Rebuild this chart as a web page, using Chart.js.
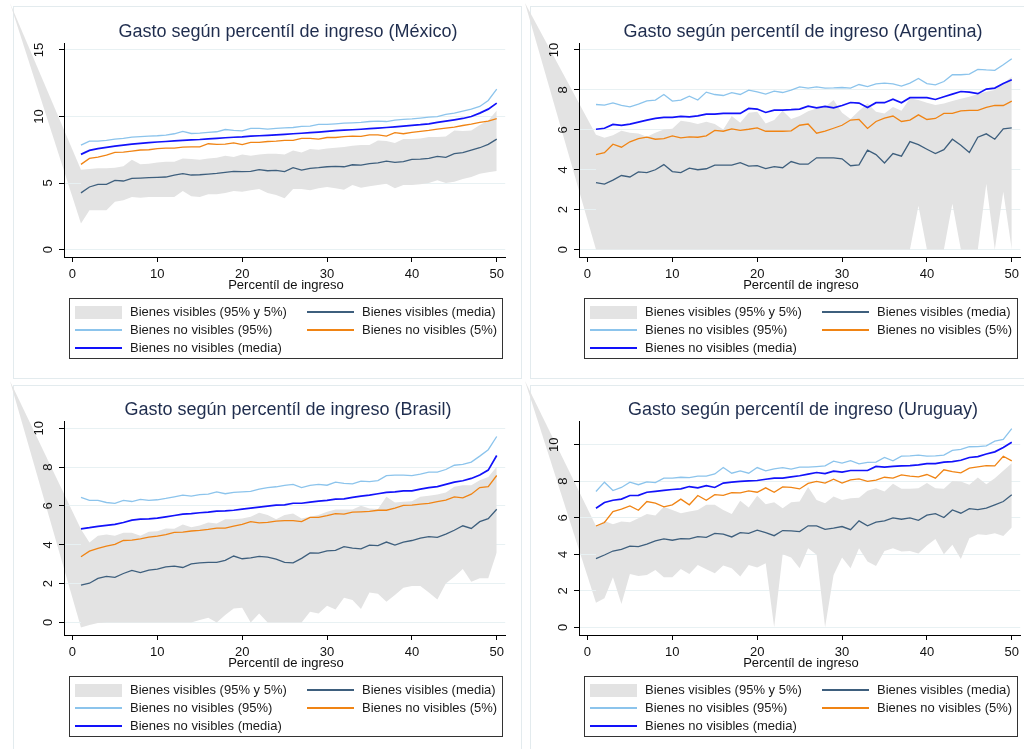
<!DOCTYPE html>
<html lang="es">
<head>
<meta charset="utf-8">
<title>Gasto según percentíl de ingreso</title>
<script src="https://cdn.jsdelivr.net/npm/chart.js@4.4.1/dist/chart.umd.min.js"></script>
<style>
    html, body { margin: 0; padding: 0; background: #fff; overflow: hidden; }
    body { width: 1024px; height: 749px; position: relative; font-family: "Liberation Sans", Arial, sans-serif; }
    .panel { position: absolute; width: 509px; height: 371px; }
    .panel canvas { position: absolute; left: 0; top: 0; }
    .marco { position: absolute; border: 1px solid #e3ebee; }
    .titulo { position: absolute; left: 64px; width: 448px; top: 22px; font-size: 18px; line-height: 18px; text-align: center; color: #1f2d4e; white-space: nowrap; }
    .xtitulo { position: absolute; left: 64px; width: 444px; top: 278px; font-size: 13px; line-height: 13px; text-align: center; color: #111; white-space: nowrap; }
    .leyenda { position: absolute; left: 69px; top: 298px; width: 432px; height: 59px; border: 1px solid #333; background: #fff; font-size: 13px; color: #1a1a1a; }
    .muestra { position: absolute; width: 47px; }
    .texto { position: absolute; height: 18px; line-height: 18px; white-space: nowrap; }
</style>
</head>
<body>
<script>
// Percentiles de ingreso (eje x) y marcas de los ejes
const percentil = [1, 2, 3, 4, 5, 6, 7, 8, 9, 10, 11, 12, 13, 14, 15, 16, 17, 18, 19, 20, 21, 22, 23, 24, 25,
    26, 27, 28, 29, 30, 31, 32, 33, 34, 35, 36, 37, 38, 39, 40, 41, 42, 43, 44, 45, 46, 47, 48, 49, 50]
const xTicks = [0, 10, 20, 30, 40, 50]
const yTicksMex = [0, 5, 10, 15]
const yTicksPar = [0, 2, 4, 6, 8, 10]

// México
const mexVisAlto = [6.0, 6.05, 6.1, 6.1, 6.15, 6.25, 6.75, 6.4, 6.45, 6.55, 6.6, 6.6, 6.85, 6.8, 6.75, 6.85, 6.9, 7.05, 6.95, 7.15, 7.05, 7.15, 7.2, 7.2, 7.15,
    7.45, 7.3, 7.55, 7.5, 7.6, 7.65, 7.7, 7.8, 7.85, 7.85, 8.2, 8.15, 8.0, 8.3, 8.3, 8.35, 8.45, 8.45, 8.5, 8.95, 8.9, 8.95, 9.35, 9.7, 10.45]
const mexVisBajo = [1.95, 2.95, 2.95, 2.95, 3.6, 3.7, 3.95, 3.9, 3.95, 3.95, 3.95, 3.95, 4.4, 4.0, 3.95, 4.15, 4.15, 4.25, 4.4, 4.35, 4.45, 4.55, 4.25, 4.1, 3.85,
    4.55, 4.55, 4.45, 4.6, 4.7, 4.6, 4.5, 4.85, 4.65, 4.75, 4.85, 4.95, 4.6, 4.85, 4.85, 4.9, 5.0, 5.2, 5.0, 5.1, 5.3, 5.45, 5.7, 5.8, 5.9]
const mexVisMedia = [4.26, 4.7, 4.9, 4.9, 5.2, 5.15, 5.35, 5.37, 5.4, 5.42, 5.45, 5.6, 5.7, 5.6, 5.62, 5.67, 5.72, 5.8, 5.87, 5.85, 5.87, 6.0, 5.92, 5.95, 5.85,
    6.15, 5.97, 6.1, 6.15, 6.22, 6.25, 6.22, 6.37, 6.35, 6.45, 6.52, 6.65, 6.55, 6.6, 6.77, 6.8, 6.85, 7.0, 6.92, 7.2, 7.28, 7.47, 7.65, 7.9, 8.3]
const mexNoVis95 = [7.85, 8.15, 8.15, 8.2, 8.3, 8.35, 8.45, 8.48, 8.52, 8.55, 8.6, 8.7, 8.88, 8.72, 8.75, 8.8, 8.85, 9.02, 8.95, 8.92, 9.1, 9.1, 9.05, 9.1, 9.15,
    9.17, 9.25, 9.27, 9.4, 9.4, 9.45, 9.5, 9.52, 9.55, 9.62, 9.65, 9.62, 9.72, 9.78, 9.82, 9.88, 9.95, 9.98, 10.15, 10.25, 10.4, 10.55, 10.75, 11.2, 12.05]
const mexNoVis5 = [6.4, 6.85, 6.95, 7.1, 7.3, 7.32, 7.4, 7.48, 7.5, 7.58, 7.62, 7.62, 7.7, 7.72, 7.72, 7.95, 7.9, 7.92, 8.02, 7.88, 8.05, 8.05, 8.12, 8.15, 8.2,
    8.2, 8.35, 8.35, 8.3, 8.42, 8.42, 8.48, 8.52, 8.5, 8.62, 8.62, 8.52, 8.78, 8.7, 8.8, 8.88, 8.95, 9.05, 9.12, 9.2, 9.32, 9.42, 9.55, 9.65, 9.83]
const mexNoVisMedia = [7.15, 7.45, 7.58, 7.68, 7.77, 7.85, 7.92, 7.98, 8.03, 8.08, 8.12, 8.16, 8.2, 8.24, 8.27, 8.32, 8.36, 8.4, 8.44, 8.47, 8.52, 8.55, 8.58, 8.62, 8.66,
    8.7, 8.74, 8.78, 8.83, 8.88, 8.93, 8.97, 9.0, 9.04, 9.09, 9.13, 9.17, 9.22, 9.27, 9.33, 9.38, 9.45, 9.55, 9.65, 9.75, 9.85, 10.0, 10.25, 10.55, 11.0]

// Argentina
const argVisAlto = [5.75, 5.6, 5.73, 5.95, 5.85, 5.82, 5.65, 5.85, 6.02, 6.05, 6.45, 6.39, 6.29, 6.4, 6.29, 6.02, 6.69, 6.35, 6.85, 6.9, 6.32, 6.49, 6.95, 6.54, 6.69,
    6.93, 7.07, 7.15, 7.49, 6.85, 6.54, 6.95, 7.32, 6.9, 6.82, 7.15, 6.95, 7.57, 7.49, 7.36, 7.24, 7.32, 7.44, 7.56, 7.66, 7.79, 7.91, 7.99, 8.32, 8.66]
const argVisBajo = [0, 0, 0, 0, 0, 0, 0, 0, 0, 0, 0, 0, 0, 0, 0, 0, 0, 0, 0, 0, 0, 0, 0, 0, 0,
    0, 0, 0, 0, 0, 0, 0, 0, 0, 0, 0, 0, 0, 2.2, 0, 0, 0, 2.3, 0, 0, 0, 3.3, 0, 2.9, 0]
const argVisMedia = [3.36, 3.28, 3.48, 3.71, 3.64, 3.89, 3.86, 4.0, 4.26, 3.91, 3.86, 4.08, 4.0, 4.05, 4.23, 4.23, 4.23, 4.36, 4.18, 4.21, 4.06, 4.16, 4.1, 4.41, 4.28,
    4.28, 4.6, 4.6, 4.6, 4.55, 4.2, 4.25, 4.98, 4.76, 4.34, 4.81, 4.68, 5.41, 5.26, 5.03, 4.81, 5.01, 5.53, 5.23, 4.86, 5.63, 5.8, 5.53, 6.05, 6.1]
const argNoVis95 = [7.27, 7.24, 7.35, 7.22, 7.15, 7.29, 7.45, 7.49, 7.77, 7.44, 7.49, 7.69, 7.49, 7.89, 7.77, 7.72, 7.86, 7.77, 7.99, 7.9, 7.79, 7.94, 7.87, 7.99, 8.15,
    8.09, 8.15, 8.09, 8.1, 8.12, 8.09, 8.27, 8.17, 8.3, 8.34, 8.3, 8.19, 8.34, 8.57, 8.32, 8.25, 8.42, 8.76, 8.76, 8.79, 9.03, 9.0, 8.98, 9.26, 9.56]
const argNoVis5 = [4.76, 4.86, 5.28, 5.13, 5.4, 5.56, 5.63, 5.53, 5.56, 5.7, 5.6, 5.65, 5.63, 5.7, 5.97, 5.93, 6.05, 5.97, 6.03, 6.1, 5.93, 5.93, 5.93, 5.95, 6.23,
    6.29, 5.83, 5.93, 6.08, 6.23, 6.49, 6.52, 6.07, 6.42, 6.59, 6.69, 6.42, 6.49, 6.75, 6.52, 6.57, 6.82, 6.82, 6.95, 6.97, 6.97, 7.12, 7.22, 7.22, 7.44]
const argNoVisMedia = [6.03, 6.08, 6.27, 6.22, 6.29, 6.39, 6.49, 6.57, 6.62, 6.62, 6.67, 6.65, 6.7, 6.79, 6.79, 6.82, 6.82, 6.82, 7.07, 7.04, 6.87, 6.99, 6.99, 7.01, 7.04,
    7.19, 7.1, 7.17, 7.1, 7.22, 7.37, 7.34, 7.12, 7.36, 7.36, 7.54, 7.36, 7.61, 7.61, 7.61, 7.52, 7.66, 7.79, 7.92, 7.89, 7.81, 8.04, 8.09, 8.32, 8.51]

// Brasil
const braVisAlto = [4.8, 4.12, 4.46, 4.53, 4.46, 4.62, 4.62, 4.46, 4.67, 4.7, 4.84, 4.82, 5.05, 4.9, 5.0, 5.15, 5.1, 5.32, 5.32, 5.36, 5.44, 5.65, 5.53, 5.32, 5.53,
    5.61, 5.36, 5.45, 5.53, 5.7, 5.82, 5.82, 5.82, 6.01, 5.87, 5.84, 6.47, 6.18, 6.22, 6.25, 6.47, 6.53, 6.59, 6.7, 6.99, 7.07, 7.07, 7.33, 7.5, 8.02]
const braVisBajo = [-0.26, -0.14, -0.03, 0, 0, 0, 0, 0, 0, 0, 0, 0, 0, 0, 0.12, 0.24, 0, 0.38, 0.72, 0.75, 0, 0.46, 0, 0, 0,
    0, 0, 0.55, 0.46, 0.86, 0.67, 1.27, 1.15, 0.69, 1.54, 1.48, 1.06, 1.41, 1.79, 1.87, 1.87, 1.54, 1.18, 2.0, 2.35, 2.75, 2.1, 2.27, 2.27, 3.6]
const braVisMedia = [1.92, 2.02, 2.27, 2.37, 2.32, 2.52, 2.68, 2.57, 2.69, 2.75, 2.86, 2.9, 2.83, 3.02, 3.07, 3.09, 3.09, 3.2, 3.42, 3.28, 3.33, 3.4, 3.36, 3.26, 3.09,
    3.07, 3.3, 3.58, 3.57, 3.69, 3.71, 3.9, 3.83, 3.79, 3.98, 3.96, 4.14, 3.98, 4.14, 4.22, 4.34, 4.42, 4.38, 4.55, 4.75, 4.98, 4.84, 5.19, 5.35, 5.83]
const braNoVis95 = [6.44, 6.29, 6.29, 6.18, 6.13, 6.29, 6.23, 6.34, 6.29, 6.32, 6.39, 6.47, 6.56, 6.51, 6.59, 6.61, 6.73, 6.63, 6.7, 6.73, 6.75, 6.87, 6.95, 6.99, 7.06,
    7.11, 6.95, 7.06, 7.11, 7.07, 7.23, 7.16, 7.14, 7.28, 7.26, 7.31, 7.56, 7.59, 7.59, 7.56, 7.64, 7.74, 7.74, 7.88, 8.1, 8.14, 8.26, 8.57, 8.9, 9.58]
const braNoVis5 = [3.38, 3.67, 3.81, 3.93, 4.02, 4.22, 4.24, 4.31, 4.39, 4.45, 4.52, 4.64, 4.65, 4.71, 4.74, 4.79, 4.86, 4.86, 4.96, 5.05, 5.19, 5.13, 5.15, 5.22, 5.24,
    5.25, 5.19, 5.41, 5.41, 5.5, 5.61, 5.58, 5.68, 5.7, 5.72, 5.78, 5.78, 5.89, 6.03, 6.04, 6.1, 6.13, 6.23, 6.3, 6.47, 6.42, 6.61, 6.95, 7.0, 7.57]
const braNoVisMedia = [4.82, 4.88, 4.95, 5.0, 5.05, 5.15, 5.27, 5.32, 5.34, 5.37, 5.44, 5.51, 5.58, 5.61, 5.65, 5.68, 5.73, 5.75, 5.78, 5.84, 5.89, 5.94, 5.99, 6.04, 6.06,
    6.14, 6.14, 6.2, 6.25, 6.29, 6.35, 6.37, 6.44, 6.51, 6.56, 6.63, 6.7, 6.73, 6.78, 6.78, 6.87, 6.95, 7.0, 7.11, 7.23, 7.3, 7.42, 7.6, 7.85, 8.6]

// Uruguay
const uruVisAlto = [5.55, 5.83, 5.65, 5.79, 5.76, 5.98, 6.2, 6.13, 6.6, 6.43, 6.25, 6.34, 6.43, 6.71, 6.71, 6.43, 6.21, 6.93, 6.56, 7.2, 6.74, 6.85, 6.52, 6.85, 6.89,
    7.68, 6.98, 6.8, 7.16, 6.98, 7.07, 7.1, 7.48, 7.62, 7.44, 7.86, 7.59, 7.59, 7.62, 7.9, 7.62, 7.59, 8.02, 7.99, 7.81, 8.21, 7.84, 8.17, 8.57, 8.99]
const uruVisBajo = [1.35, 1.59, 2.74, 1.28, 2.92, 2.81, 2.87, 3.14, 2.74, 2.74, 3.2, 2.92, 3.42, 3.18, 2.96, 3.38, 3.24, 2.78, 3.42, 3.27, 3.51, 0, 4.0, 3.82, 3.24,
    4.33, 3.97, 0, 2.87, 3.82, 3.24, 4.33, 3.6, 3.36, 4.18, 4.33, 4.15, 4.18, 4.05, 4.48, 4.84, 4.0, 4.52, 3.74, 4.88, 5.1, 5.06, 5.15, 5.0, 5.47]
const uruVisMedia = [3.76, 3.96, 4.18, 4.27, 4.45, 4.42, 4.56, 4.73, 4.84, 4.77, 4.86, 4.84, 4.97, 4.93, 5.15, 5.1, 4.95, 5.19, 5.15, 5.32, 5.19, 5.02, 5.3, 5.28, 5.24,
    5.56, 5.56, 5.37, 5.43, 5.52, 5.35, 5.83, 5.56, 5.76, 5.83, 5.99, 5.92, 5.99, 5.86, 6.14, 6.23, 6.01, 6.43, 6.25, 6.5, 6.45, 6.53, 6.71, 6.89, 7.26]
const uruNoVis95 = [7.44, 7.95, 7.49, 7.66, 7.95, 7.81, 7.97, 7.93, 8.17, 8.17, 8.22, 8.2, 8.28, 8.28, 8.4, 8.75, 8.44, 8.57, 8.44, 8.75, 8.57, 8.68, 8.75, 8.66, 8.77,
    8.77, 8.8, 8.84, 9.1, 8.99, 9.13, 8.95, 9.03, 9.05, 9.3, 9.12, 9.38, 9.39, 9.43, 9.38, 9.39, 9.43, 9.69, 9.74, 9.89, 9.9, 9.94, 10.2, 10.29, 10.88]
const uruNoVis5 = [5.55, 5.74, 6.34, 6.47, 6.65, 6.41, 6.89, 6.8, 6.6, 6.71, 7.02, 6.71, 7.22, 6.96, 7.27, 7.23, 7.38, 7.36, 7.47, 7.4, 7.64, 7.4, 7.69, 7.66, 7.58,
    7.88, 7.99, 7.9, 8.11, 7.9, 8.08, 8.13, 7.99, 8.06, 8.22, 8.17, 8.35, 8.28, 8.24, 8.37, 8.17, 8.63, 8.53, 8.46, 8.72, 8.79, 8.86, 8.84, 9.37, 9.12]
const uruNoVisMedia = [6.52, 6.84, 6.96, 7.02, 7.22, 7.23, 7.4, 7.45, 7.5, 7.55, 7.58, 7.71, 7.64, 7.76, 7.66, 7.9, 7.95, 7.99, 8.02, 8.04, 8.11, 8.17, 8.17, 8.24, 8.3,
    8.39, 8.48, 8.42, 8.55, 8.5, 8.59, 8.59, 8.59, 8.81, 8.77, 8.81, 8.84, 8.86, 8.9, 8.97, 8.97, 9.05, 9.08, 9.15, 9.3, 9.35, 9.49, 9.61, 9.85, 10.14]

// Colores estilo Stata (s2color)
const colores = {
    banda: "rgb(227, 227, 227)",
    visMedia: "rgb(62, 95, 125)",
    noVis95: "rgb(140, 196, 236)",
    noVis5: "rgb(240, 132, 20)",
    noVisMedia: "rgb(18, 18, 250)",
}
const fuente = "'Liberation Sans', Arial, sans-serif"

Chart.defaults.font.family = fuente
Chart.defaults.color = "#111"

const paneles = [
    { pais: "México", left: 0, top: 0, marco: [13, 6, 507, 371], derecha: 2, yMin: -0.56, yMax: 15.52, yTicks: yTicksMex,
        alto: mexVisAlto, bajo: mexVisBajo, visMedia: mexVisMedia, noVis95: mexNoVis95, noVis5: mexNoVis5, noVisMedia: mexNoVisMedia },
    { pais: "Argentina", left: 515, top: 0, marco: [15, 6, 520, 371], derecha: 0, yMin: -0.37, yMax: 10.35, yTicks: yTicksPar,
        alto: argVisAlto, bajo: argVisBajo, visMedia: argVisMedia, noVis95: argNoVis95, noVis5: argNoVis5, noVisMedia: argNoVisMedia },
    { pais: "Brasil", left: 0, top: 378, marco: [13, 7, 507, 400], derecha: 2, yMin: -0.65, yMax: 10.38, yTicks: yTicksPar,
        alto: braVisAlto, bajo: braVisBajo, visMedia: braVisMedia, noVis95: braNoVis95, noVis5: braNoVis5, noVisMedia: braNoVisMedia },
    { pais: "Uruguay", left: 515, top: 378, marco: [15, 7, 520, 400], derecha: 0, yMin: -0.42, yMax: 11.3, yTicks: yTicksPar,
        alto: uruVisAlto, bajo: uruVisBajo, visMedia: uruVisMedia, noVis95: uruNoVis95, noVis5: uruNoVis5, noVisMedia: uruNoVisMedia },
]

// Entradas de la leyenda (dos columnas, tres filas)
const leyenda = [
    { texto: "Bienes visibles (95% y 5%)", color: colores.banda, banda: true, col: 0, fila: 0 },
    { texto: "Bienes visibles (media)", color: colores.visMedia, grosor: 1.5, col: 1, fila: 0 },
    { texto: "Bienes no visibles (95%)", color: colores.noVis95, grosor: 1.5, col: 0, fila: 1 },
    { texto: "Bienes no visibles (5%)", color: colores.noVis5, grosor: 1.5, col: 1, fila: 1 },
    { texto: "Bienes no visibles (media)", color: colores.noVisMedia, grosor: 2, col: 0, fila: 2 },
]

const puntos = serie => serie.map((v, i) => ({ x: percentil[i], y: v }))

// Cuña gris que une la esquina del panel con el primer tramo de la banda
const cuna = {
    id: "cuna",
    beforeDraw(chart, args, opts) {
        const { ctx, scales: { x, y } } = chart
        const hi = chart.data.datasets[0].data[0]
        const lo = chart.data.datasets[1].data[0]
        ctx.save()
        ctx.fillStyle = colores.banda
        ctx.beginPath()
        ctx.moveTo(opts.x, opts.y)
        ctx.lineTo(x.getPixelForValue(hi.x), y.getPixelForValue(hi.y))
        ctx.lineTo(x.getPixelForValue(lo.x), y.getPixelForValue(lo.y))
        ctx.closePath()
        ctx.fill()
        ctx.restore()
    },
}

// Etiquetas del eje y giradas 90°
const etiquetasY = {
    id: "etiquetasY",
    afterDraw(chart) {
        const { ctx, chartArea, scales: { y } } = chart
        ctx.save()
        ctx.font = "13px " + fuente
        ctx.fillStyle = "#111"
        ctx.textAlign = "center"
        ctx.textBaseline = "middle"
        y.ticks.forEach(t => {
            const txt = String(t.value)
            const w = ctx.measureText(txt).width
            ctx.save()
            ctx.translate(chartArea.left - 6 - 1.26 * w, y.getPixelForValue(t.value))
            ctx.rotate(-Math.PI / 2)
            ctx.fillText(txt, 0, 0)
            ctx.restore()
        })
        ctx.restore()
    },
}

function crearLeyenda(cont) {
    const caja = document.createElement("div")
    caja.className = "leyenda"
    const filasY = [13, 31, 49]
    leyenda.forEach(e => {
        const m = document.createElement("div")
        m.className = "muestra"
        m.style.left = (e.col ? 237 : 5) + "px"
        if (e.banda) {
            m.style.top = (filasY[e.fila] - 6.5) + "px"
            m.style.height = "13px"
        } else {
            m.style.top = (filasY[e.fila] - e.grosor / 2) + "px"
            m.style.height = e.grosor + "px"
        }
        m.style.background = e.color
        const t = document.createElement("div")
        t.className = "texto"
        t.style.left = (e.col ? 292 : 60) + "px"
        t.style.top = (filasY[e.fila] - 9) + "px"
        t.textContent = e.texto
        caja.appendChild(m)
        caja.appendChild(t)
    })
    cont.appendChild(caja)
}

function crearPanel(p) {
    const marco = document.createElement("div")
    marco.className = "marco"
    marco.style.left = (p.left + p.marco[0]) + "px"
    marco.style.top = (p.top + p.marco[1]) + "px"
    marco.style.width = p.marco[2] + "px"
    marco.style.height = p.marco[3] + "px"
    document.body.appendChild(marco)

    const cont = document.createElement("div")
    cont.className = "panel"
    cont.style.left = p.left + "px"
    cont.style.top = p.top + "px"
    document.body.appendChild(cont)

    const canvas = document.createElement("canvas")
    canvas.width = 509
    canvas.height = 371
    cont.appendChild(canvas)

    const titulo = document.createElement("div")
    titulo.className = "titulo"
    titulo.textContent = "Gasto según percentíl de ingreso (" + p.pais + ")"
    cont.appendChild(titulo)

    const xt = document.createElement("div")
    xt.className = "xtitulo"
    xt.textContent = "Percentíl de ingreso"
    cont.appendChild(xt)

    crearLeyenda(cont)

    const linea = (label, serie, color, grosor) => ({
        label, data: puntos(serie), borderColor: color, borderWidth: grosor, fill: false,
    })

    return new Chart(canvas, {
        type: "line",
        data: {
            datasets: [
                { label: "Bienes visibles (95% y 5%)", data: puntos(p.alto), fill: "+1",
                    backgroundColor: colores.banda, borderColor: "rgba(0,0,0,0)", borderWidth: 0 },
                { label: "Bienes visibles (5%)", data: puntos(p.bajo), fill: false,
                    borderColor: "rgba(0,0,0,0)", borderWidth: 0 },
                linea("Bienes no visibles (media)", p.noVisMedia, colores.noVisMedia, 1.7),
                linea("Bienes visibles (media)", p.visMedia, colores.visMedia, 1.3),
                linea("Bienes no visibles (95%)", p.noVis95, colores.noVis95, 1.3),
                linea("Bienes no visibles (5%)", p.noVis5, colores.noVis5, 1.3),
            ],
        },
        options: {
            responsive: false,
            animation: false,
            layout: { padding: { top: 43, right: p.derecha, left: 0, bottom: 0 } },
            elements: { point: { radius: 0, hoverRadius: 0 }, line: { tension: 0 } },
            plugins: {
                legend: { display: false },
                tooltip: { enabled: false },
                filler: { drawTime: "beforeDatasetsDraw" },
                cuna: { x: 10, y: 3 },
            },
            scales: {
                x: {
                    type: "linear",
                    min: -1,
                    max: 51,
                    afterBuildTicks: s => { s.ticks = xTicks.map(v => ({ value: v })) },
                    afterFit: s => { s.height = 371 - 257 },
                    grid: { drawOnChartArea: false, tickLength: 5, tickColor: "#000" },
                    border: { color: "#000", width: 1 },
                    ticks: { font: { size: 13 }, color: "#111", padding: 5, maxRotation: 0, autoSkip: false },
                },
                y: {
                    min: p.yMin,
                    max: p.yMax,
                    afterBuildTicks: s => { s.ticks = p.yTicks.map(v => ({ value: v })) },
                    afterFit: s => { s.width = 64 },
                    grid: { color: "rgb(232, 241, 243)", tickLength: 5, tickColor: "#000" },
                    border: { color: "#000", width: 1 },
                    ticks: { display: false },
                },
            },
        },
        plugins: [cuna, etiquetasY],
    })
}

paneles.forEach(crearPanel)
</script>
</body>
</html>
